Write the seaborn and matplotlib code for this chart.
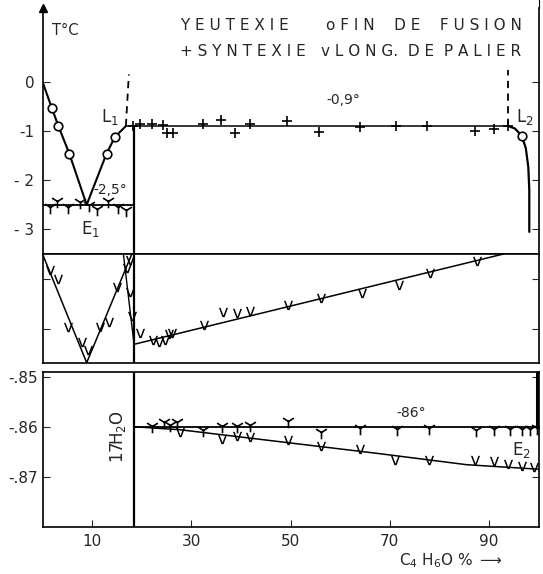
import matplotlib
matplotlib.use("Agg")
import matplotlib.pyplot as plt
import seaborn as sns
import pandas as pd

sns.set_style("ticks")
plt.rcParams['font.family'] = ['DejaVu Sans']
plt.rcParams['mathtext.fontset'] = 'dejavusans'

# composition of the hydrate C4H6O.17H2O (% C4H6O)
hydrate_x = 18.4

# top panel, temperatures in deg C
liq1_x = [0, 1.9, 3.2, 5.4, 8.9, 12.9, 14.6, 16.8]
liq1_y = [0, -0.54, -0.90, -1.46, -2.50, -1.46, -1.12, -0.90]
circ_x = [1.9, 3.2, 5.4, 12.9, 14.6, 96.6]
circ_y = [-0.54, -0.90, -1.46, -1.46, -1.12, -1.10]
liq2_x = [93.9, 95.2, 96.6, 97.4, 97.9, 98.1, 98.1]
liq2_y = [-0.90, -0.95, -1.10, -1.35, -1.73, -2.20, -3.05]
synt_x = [18.2, 19.7, 22.0, 24.2, 25.0, 26.3, 32.3, 35.9, 38.8, 41.8, 49.2, 55.8,
          63.9, 71.3, 77.5, 87.2, 90.9, 93.9]
synt_y = [-0.90, -0.86, -0.86, -0.88, -1.05, -1.05, -0.85, -0.77, -1.04, -0.85, -0.80,
          -1.02, -0.92, -0.90, -0.90, -1.00, -0.95, -0.90]
eut1_x = [1.5, 3.0, 5.2, 7.6, 9.3, 10.9, 13.1, 15.3, 16.8]
eut1_y = [-2.55, -2.42, -2.55, -2.45, -2.50, -2.58, -2.42, -2.55, -2.60]
e1_temp = -2.5
synt_temp = -0.9

# middle panel, plateau length (arbitrary units)
pal_v_x = [0, 8.9, 18.0]
pal_v_y = [10.87, 0, 10.87]
pal_h_x = [16.3, 18.45]
pal_h_y = [10.87, 1.84]
pal_r_x = [18.45, 92.9]
pal_r_y = [1.84, 10.87]
palm_x = [1.5, 3.2, 5.2, 7.9, 9.2, 11.6, 13.3, 15.0, 17.0, 17.6, 17.6, 18.0,
          19.6, 22.3, 23.4, 24.6, 25.4, 26.1, 32.6, 36.3, 39.2, 41.8, 49.4, 56.2,
          64.4, 71.9, 78.0, 87.5]
palm_y = [9.27, 8.34, 3.54, 2.10, 1.27, 3.54, 4.10, 7.60, 9.44, 10.27, 7.10, 4.67,
          2.94, 2.27, 2.10, 2.27, 2.87, 2.94, 3.77, 5.10, 4.94, 5.17, 5.77, 6.50,
          6.94, 7.76, 8.97, 10.19]

# bottom panel, deg C
e2_temp = -86.0
eut2_x = [22.0, 24.4, 25.7, 27.1, 32.4, 36.1, 39.2, 41.8, 49.4, 56.1, 64.0, 71.4,
          77.8, 87.4, 90.9, 94.3, 96.6, 98.3, 99.6]
eut2_y = [-85.99, -85.91, -85.96, -85.91, -86.06, -85.98, -85.98, -85.96, -85.89,
          -86.11, -86.03, -86.05, -86.03, -86.06, -86.05, -86.05, -86.05, -86.05, -86.03]
pal2_x = [18.4, 27.7, 68.0, 85.5, 100]
pal2_y = [-86.0, -86.06, -86.54, -86.76, -86.85]
pal2v_x = [27.7, 36.1, 39.2, 41.8, 49.4, 56.1, 64.0, 71.1, 77.8, 87.2, 90.9, 93.9,
           96.6, 99.0]
pal2v_y = [-86.11, -86.25, -86.19, -86.21, -86.27, -86.38, -86.45, -86.66, -86.67,
           -86.66, -86.69, -86.74, -86.78, -86.81]

fig = plt.figure(figsize=(5.43, 5.74), dpi=100)
L, W = 0.0783, 0.9138
ax1 = fig.add_axes([L, 0.5575, W, 0.4286])
ax2 = fig.add_axes([L, 0.3681, W, 0.1894])
ax3 = fig.add_axes([L, 0.0824, W, 0.2700])

k = 'black'
line_kw = dict(color=k, estimator=None, sort=False, legend=False)
vmark = '$\\mathsf{v}$'

# ---- top panel ----
sns.lineplot(x=liq1_x, y=liq1_y, ax=ax1, lw=1.5, **line_kw)
sns.lineplot(x=liq2_x, y=liq2_y, ax=ax1, lw=1.6, **line_kw)
ax1.plot([16.8, liq2_x[0]], [synt_temp, synt_temp], color=k, lw=1.1)
ax1.plot([0, hydrate_x], [e1_temp, e1_temp], color=k, lw=1.3)
ax1.plot([hydrate_x, hydrate_x], [synt_temp, -3.5], color=k, lw=1.6)
ax1.plot([16.8, 17.4], [synt_temp, 0.15], color=k, lw=1.3, ls=(0, (4, 3)))
ax1.plot([93.9, 93.9], [synt_temp, 0.23], color=k, lw=1.3, ls=(0, (4, 3)))
sns.scatterplot(x=synt_x, y=synt_y, ax=ax1, marker='+', s=45, color=k, linewidth=1.2)
sns.scatterplot(x=eut1_x, y=eut1_y, ax=ax1, marker='1', s=95, color=k, linewidth=1.2)
sns.scatterplot(x=circ_x, y=circ_y, ax=ax1, marker='o', s=38, facecolor='white',
                edgecolor=k, linewidth=1.2, zorder=5)
ax1.set_xlim(0, 100)
ax1.set_ylim(-3.5, 1.5)
ax1.set_yticks([0, -1, -2, -3])
ax1.set_yticklabels(['0', '-1', '- 2', '- 3'])
ax1.set_xticks([])
ax1.spines['top'].set_visible(False)
ax1.tick_params(axis='y', direction='in', length=5, labelsize=11, right=True, pad=6)
ax1.plot(0, 1.0, marker='^', color=k, markersize=6, transform=ax1.transAxes, clip_on=False)
ax1.plot([1, 1], [1, 1.035], color=k, lw=0.8, transform=ax1.transAxes, clip_on=False)

ax1.text(4.6, 1.05, 'T°C', fontsize=10.5, ha='center', va='center')
ax1.text(13.6, -2.2, '-2,5°', fontsize=10, ha='center', va='center')
ax1.text(9.6, -3.0, 'E$_1$', fontsize=12, ha='center', va='center')
ax1.text(13.6, -0.72, 'L$_1$', fontsize=12, ha='center', va='center')
ax1.text(97.3, -0.72, 'L$_2$', fontsize=12, ha='center', va='center')
ax1.text(60.6, -0.38, '-0,9°', fontsize=10, ha='center', va='center')
leg_kw = dict(fontsize=11, ha='left', va='center', transform=fig.transFigure)
fig.text(180 / 543, 1 - 25 / 574, 'Y', **leg_kw)
fig.text(195 / 543, 1 - 25 / 574, 'E U T E X I E', **leg_kw)
fig.text(326 / 543, 1 - 25 / 574, 'o F I N    D E    F U S I O N', **leg_kw)
fig.text(180 / 543, 1 - 52 / 574, '+ S Y N T E X I E', **leg_kw)
fig.text(321 / 543, 1 - 52 / 574, 'v L O N G.  D E  P A L I E R', **leg_kw)

# ---- middle panel ----
sns.lineplot(x=pal_v_x, y=pal_v_y, ax=ax2, lw=1.1, **line_kw)
sns.lineplot(x=pal_h_x, y=pal_h_y, ax=ax2, lw=1.0, **line_kw)
sns.lineplot(x=pal_r_x, y=pal_r_y, ax=ax2, lw=1.1, **line_kw)
ax2.plot([hydrate_x, hydrate_x], [0, 10.87], color=k, lw=1.6)
sns.scatterplot(x=palm_x, y=palm_y, ax=ax2, marker=vmark, s=45, color=k, linewidth=0)
ax2.set_xlim(0, 100)
ax2.set_ylim(0, 10.87)
ax2.set_yticks([3.34, 8.34])
ax2.set_yticklabels([])
ax2.set_xticks([])
ax2.tick_params(axis='y', direction='in', length=5, right=True)

# ---- bottom panel ----
ax3.plot([hydrate_x, 100], [e2_temp, e2_temp], color=k, lw=1.3)
sns.lineplot(x=pal2_x, y=pal2_y, ax=ax3, lw=1.1, **line_kw)
ax3.plot([hydrate_x, hydrate_x], [-88, -84.9], color=k, lw=1.6)
ax3.plot([99.6, 99.6], [-84.9, e2_temp], color=k, lw=2.2)
sns.scatterplot(x=eut2_x, y=eut2_y, ax=ax3, marker='1', s=95, color=k, linewidth=1.2)
sns.scatterplot(x=pal2v_x, y=pal2v_y, ax=ax3, marker=vmark, s=45, color=k, linewidth=0)
ax3.text(15.3, -86.2, '17H$_2$O', fontsize=12, rotation=90, ha='center', va='center')
ax3.text(74.4, -85.72, '-86°', fontsize=10, ha='center', va='center')
ax3.text(96.6, -86.46, 'E$_2$', fontsize=12, ha='center', va='center')
ax3.set_xlim(0, 100)
ax3.set_ylim(-88, -84.9)
ax3.set_yticks([-85, -86, -87])
ax3.set_yticklabels(['-.85', '-.86', '-.87'])
ax3.set_xticks([10, 30, 50, 70, 90])
ax3.tick_params(axis='both', direction='in', length=5, labelsize=11, right=True)
ax3.tick_params(axis='y', pad=3)
ax3.tick_params(axis='x', pad=5)
fig.text(451 / 543, 1 - 561 / 574, 'C$_4$ H$_6$O % $\\longrightarrow$', fontsize=11,
         ha='center', va='center')

for ax in (ax1, ax2, ax3):
    for s in ax.spines.values():
        s.set_linewidth(1.2)
        s.set_color(k)

fig.savefig('out.png', dpi=100)
